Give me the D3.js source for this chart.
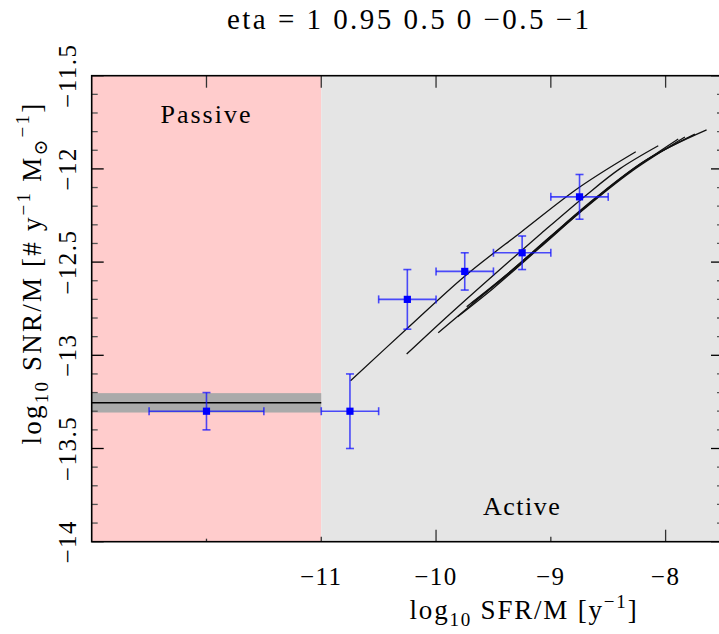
<!DOCTYPE html>
<html>
<head>
<meta charset="utf-8">
<script src="https://cdn.jsdelivr.net/npm/d3@7"></script>
<style>
  body { margin: 0; background: #fff; }
  svg { display: block; }
  text { font-family: "Liberation Serif", "DejaVu Serif", serif; fill: #000; }
</style>
</head>
<body>
<svg id="chart" width="719" height="634"></svg>
<script>
// ---- data -------------------------------------------------------------
const etaValues = [1, 0.95, 0.5, 0, -0.5, -1];

// model tracks, one per eta value (log SFR/M, log SNR/M)
const trackEta1X    = [-10.745, -10.25, -9.755, -9.255, -8.745, -8.26];
const trackEta1Y    = [-13.136, -12.855, -12.578, -12.337, -12.096, -11.908];
const trackEta095X  = [-10.256, -9.9, -9.5, -9.1, -8.7, -8.4, -8.064];
const trackEta095Y  = [-12.993, -12.79, -12.57, -12.355, -12.145, -12.0, -11.876];
const trackEta05X   = [-9.981, -9.6, -9.2, -8.8, -8.4, -7.89];
const trackEta05Y   = [-12.879, -12.68, -12.47, -12.255, -12.055, -11.84];
const trackEta0X    = [-9.812, -9.5, -9.1, -8.7, -8.3, -7.832];
const trackEta0Y    = [-12.793, -12.64, -12.425, -12.21, -12.015, -11.829];
const trackEtaM05X  = [-9.733, -9.4, -9.0, -8.6, -8.2, -7.745];
const trackEtaM05Y  = [-12.739, -12.575, -12.36, -12.15, -11.965, -11.813];
const trackEtaM1X   = [-9.69, -9.35, -8.95, -8.55, -8.15, -7.643];
const trackEtaM1Y   = [-12.721, -12.555, -12.34, -12.13, -11.945, -11.791];

// binned measurements
const obsX    = [-12.0, -10.75, -10.25, -9.75, -9.25, -8.75];
const obsXErr = [0.5, 0.25, 0.25, 0.25, 0.25, 0.25];
const obsY    = [-13.30, -13.30, -12.70, -12.55, -12.45, -12.15];
const obsYErr = [0.10, 0.20, 0.16, 0.10, 0.09, 0.12];

// passive-galaxy rate and its uncertainty
const passiveBoundary = -11;
const passiveRate = -13.255;
const passiveRateErr = 0.052;

// axis ticks
const xTickValues = [-12, -11, -10, -9, -8];
const xLabelValues = [-11, -10, -9, -8];
const xLabelTexts = ["\u221211", "\u221210", "\u22129", "\u22128"];
const yLabelValues = [-14, -13.5, -13, -12.5, -12, -11.5];
const yLabelTexts = ["\u221214", "\u221213.5", "\u221213", "\u221212.5", "\u221212", "\u221211.5"];

const regionNames = ["Passive", "Active"];

// ---- drawing -----------------------------------------------------------
const svg = d3.select("#chart");
const plotLeft = 91.7, plotRight = 723, plotTop = 75.7, plotBottom = 541.7;

const x = d3.scaleLinear().domain([-13, -7.5]).range([plotLeft, plotRight]);
const y = d3.scaleLinear().domain([-14, -11.5]).range([plotBottom, plotTop]);

// shaded regions
svg.append("rect")
  .attr("x", x(-13)).attr("y", plotTop)
  .attr("width", x(passiveBoundary) - x(-13)).attr("height", plotBottom - plotTop)
  .attr("fill", "#ffcccc");
svg.append("rect")
  .attr("x", x(passiveBoundary)).attr("y", plotTop)
  .attr("width", x(-7.5) - x(passiveBoundary)).attr("height", plotBottom - plotTop)
  .attr("fill", "#e5e5e5");

// passive rate band and line
svg.append("rect")
  .attr("x", x(-13)).attr("width", x(passiveBoundary) - x(-13))
  .attr("y", y(passiveRate + passiveRateErr))
  .attr("height", y(passiveRate - passiveRateErr) - y(passiveRate + passiveRateErr))
  .attr("fill", "#aaaaaa");
svg.append("line")
  .attr("x1", x(-13)).attr("x2", x(passiveBoundary))
  .attr("y1", y(passiveRate)).attr("y2", y(passiveRate))
  .attr("stroke", "#000").attr("stroke-width", 1.5);

// model tracks
const tracks = [
  [trackEta1X, trackEta1Y], [trackEta095X, trackEta095Y], [trackEta05X, trackEta05Y],
  [trackEta0X, trackEta0Y], [trackEtaM05X, trackEtaM05Y], [trackEtaM1X, trackEtaM1Y]
];
const line = d3.line().x(d => x(d[0])).y(d => y(d[1])).curve(d3.curveCatmullRom.alpha(0.5));
svg.append("g").selectAll("path")
  .data(tracks.map(([xs, ys]) => xs.map((v, i) => [v, ys[i]])))
  .join("path")
  .attr("d", line)
  .attr("fill", "none")
  .attr("stroke", "#111")
  .attr("stroke-width", 1.3);

// measurements with error bars
const obs = obsX.map((v, i) => ({ x: v, y: obsY[i], ex: obsXErr[i], ey: obsYErr[i] }));
const eb = svg.append("g").attr("stroke", "rgba(20,20,255,0.75)").attr("stroke-width", 1.6);
const cap = 4;
obs.forEach(d => {
  eb.append("line").attr("x1", x(d.x - d.ex)).attr("x2", x(d.x + d.ex)).attr("y1", y(d.y)).attr("y2", y(d.y));
  eb.append("line").attr("x1", x(d.x)).attr("x2", x(d.x)).attr("y1", y(d.y - d.ey)).attr("y2", y(d.y + d.ey));
  eb.append("line").attr("x1", x(d.x - d.ex)).attr("x2", x(d.x - d.ex)).attr("y1", y(d.y) - cap).attr("y2", y(d.y) + cap);
  eb.append("line").attr("x1", x(d.x + d.ex)).attr("x2", x(d.x + d.ex)).attr("y1", y(d.y) - cap).attr("y2", y(d.y) + cap);
  eb.append("line").attr("x1", x(d.x) - cap).attr("x2", x(d.x) + cap).attr("y1", y(d.y - d.ey)).attr("y2", y(d.y - d.ey));
  eb.append("line").attr("x1", x(d.x) - cap).attr("x2", x(d.x) + cap).attr("y1", y(d.y + d.ey)).attr("y2", y(d.y + d.ey));
});
svg.append("g").selectAll("rect")
  .data(obs).join("rect")
  .attr("x", d => x(d.x) - 3.6).attr("y", d => y(d.y) - 3.6)
  .attr("width", 7.2).attr("height", 7.2)
  .attr("fill", "#0000ff");

// ticks (pointing inward on all four sides)
const yMinor = d3.range(0, 26).map(i => -14 + i * 0.1);
const isMajorY = v => Math.abs(v * 2 - Math.round(v * 2)) < 1e-6;
const ticks = svg.append("g");
yMinor.forEach(v => {
  const len = isMajorY(v) ? 12 : 6;
  const col = isMajorY(v) ? "#000" : "#555";
  ticks.append("line").attr("x1", plotLeft).attr("x2", plotLeft + len).attr("y1", y(v)).attr("y2", y(v))
    .attr("stroke", col).attr("stroke-width", 1.3);
  ticks.append("line").attr("x1", plotRight).attr("x2", plotRight - len).attr("y1", y(v)).attr("y2", y(v))
    .attr("stroke", col).attr("stroke-width", 1.3);
});
xTickValues.forEach(v => {
  ticks.append("line").attr("x1", x(v)).attr("x2", x(v)).attr("y1", plotTop).attr("y2", plotTop + 12)
    .attr("stroke", "#333").attr("stroke-width", 1.3);
  const len = v % 2 === 0 ? (v < passiveBoundary ? 3 : 12) : 5;
  ticks.append("line").attr("x1", x(v)).attr("x2", x(v)).attr("y1", plotBottom).attr("y2", plotBottom - len)
    .attr("stroke", "#333").attr("stroke-width", 1.3);
});

// frame
svg.append("rect")
  .attr("x", plotLeft).attr("y", plotTop).attr("width", plotRight - plotLeft).attr("height", plotBottom - plotTop)
  .attr("fill", "none").attr("stroke", "#000").attr("stroke-width", 1.6);

// tick labels
svg.append("g").selectAll("text")
  .data(xLabelValues).join("text")
  .attr("x", d => x(d)).attr("y", 585)
  .attr("text-anchor", "middle")
  .attr("font-size", 25)
  .style("letter-spacing", "1.5px")
  .text((d, i) => xLabelTexts[i]);
svg.append("g").selectAll("text")
  .data(yLabelValues).join("text")
  .attr("transform", d => `translate(76,${y(d)}) rotate(-90)`)
  .attr("text-anchor", "middle")
  .attr("font-size", 25)
  .style("letter-spacing", "1.5px")
  .text((d, i) => yLabelTexts[i]);

// title
svg.append("text")
  .attr("x", 408).attr("y", 29)
  .attr("text-anchor", "middle")
  .attr("font-size", 29)
  .attr("textLength", 362).attr("lengthAdjust", "spacing")
  .text("eta = " + etaValues.map(v => v < 0 ? "\u2212" + Math.abs(v) : String(v)).join(" "));

// axis titles
const xt = svg.append("text")
  .attr("x", 524).attr("y", 619)
  .attr("text-anchor", "middle")
  .attr("font-size", 27)
  .style("letter-spacing", "1.8px");
xt.append("tspan").text("log");
xt.append("tspan").attr("font-size", 19).attr("dy", 7).text("10");
xt.append("tspan").attr("dy", -7).text(" SFR/M [y");
xt.append("tspan").attr("font-size", 19).attr("dy", -11).text("\u22121");
xt.append("tspan").attr("dy", 11).text("]");

const yt = svg.append("text")
  .attr("transform", `translate(41,273) rotate(-90)`)
  .attr("text-anchor", "middle")
  .attr("font-size", 27)
  .style("letter-spacing", "2.2px");
yt.append("tspan").text("log");
yt.append("tspan").attr("font-size", 19).attr("dy", 7).text("10");
yt.append("tspan").attr("dy", -7).text(" SNR/M [# y");
yt.append("tspan").attr("font-size", 19).attr("dy", -11).text("\u22121");
yt.append("tspan").attr("dy", 11).text(" M");
yt.append("tspan").attr("font-size", 19).attr("dy", 6).text("\u2299");
yt.append("tspan").attr("font-size", 19).attr("dy", -18).text("\u22121");
yt.append("tspan").attr("dy", 12).text("]");

// region labels
svg.append("text")
  .attr("x", x(-12)).attr("y", 123)
  .attr("text-anchor", "middle").attr("font-size", 26)
  .style("letter-spacing", "2px")
  .text(regionNames[0]);
svg.append("text")
  .attr("x", x(-9.25)).attr("y", 515)
  .attr("text-anchor", "middle").attr("font-size", 26)
  .style("letter-spacing", "1.5px")
  .text(regionNames[1]);
</script>
</body>
</html>
